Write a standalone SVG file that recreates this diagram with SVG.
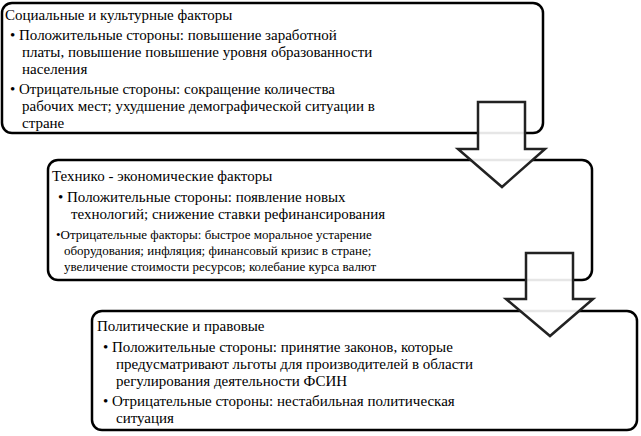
<svg xmlns="http://www.w3.org/2000/svg" width="641" height="436" viewBox="0 0 641 436">
<style>
.box{fill:#fff;stroke:#000;stroke-width:2.5}
.arr{fill:#fff;fill-opacity:0.9;stroke:#222;stroke-width:2.5;stroke-linejoin:miter}
text{font-family:'Liberation Serif','Times New Roman','DejaVu Serif',serif;font-size:15px;fill:#000}
.s{font-size:13px}
</style>
<rect width="641" height="436" fill="#fff"/>
<g id="n1" font-family="Liberation Serif, DejaVu Serif, serif">
<rect class="box" x="2" y="3" width="541" height="130" rx="10"/>
<text x="5" y="20">Социальные и культурные факторы</text>
<text x="10" y="40">• Положительные стороны: повышение заработной</text>
<text x="22" y="57">платы, повышение повышение уровня образованности</text>
<text x="22" y="74">населения</text>
<text x="10" y="94">• Отрицательные стороны: сокращение количества</text>
<text x="22" y="111">рабочих мест; ухудшение демографической ситуации в</text>
<text x="22" y="128">стране</text>
</g>
<g id="n2">
<rect class="box" x="48" y="160" width="544" height="120" rx="10"/>
<text x="52" y="181">Технико - экономические факторы</text>
<text x="58" y="202">• Положительные стороны: появление новых</text>
<text x="71" y="219">технологий; снижение ставки рефинансирования</text>
<text class="s" x="56" y="239">•Отрицательные факторы: быстрое моральное устарение</text>
<text class="s" x="64" y="255">оборудования; инфляция; финансовый кризис в стране;</text>
<text class="s" x="64" y="271">увеличение стоимости ресурсов; колебание курса валют</text>
</g>
<g id="n3">
<rect class="box" x="92" y="311" width="545" height="119" rx="10"/>
<text x="97" y="331">Политические и правовые</text>
<text x="103" y="352">• Положительные стороны: принятие законов, которые</text>
<text x="116" y="369">предусматривают льготы для производителей в области</text>
<text x="116" y="386">регулирования деятельности ФСИН</text>
<text x="103" y="406">• Отрицательные стороны: нестабильная политическая</text>
<text x="116" y="423">ситуация</text>
</g>
<g id="connectors">
<polygon class="arr" points="478,102 525,102 525,149 545,149 502,187 458,149 478,149"/>
<polygon class="arr" points="526,253 573,253 573,299 593,299 550,336 506,299 526,299"/>
</g>
</svg>
